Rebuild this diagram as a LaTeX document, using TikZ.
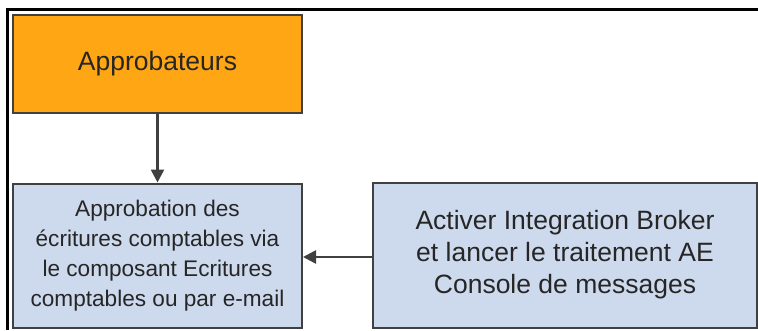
\documentclass[tikz,border=0pt]{standalone}
\usepackage{fontspec}
\setmainfont{Liberation Sans}
\usetikzlibrary{arrows.meta}
\definecolor{orangefill}{HTML}{FFA615}
\definecolor{bluefill}{HTML}{CDD9EC}
\definecolor{edgegray}{HTML}{404040}
\tikzset{
  boxstyle/.style={draw=edgegray, line width=2pt, inner sep=0pt, align=center,
    font=\fontsize{22.6}{30}\selectfont, text=black!85},
  bigtext/.style={font=\fontsize{26.5}{32}\selectfont},
  conn/.style={draw=edgegray, line width=2.5pt, -{Triangle[length=13pt,width=13pt]}}
}
\begin{document}
\begin{tikzpicture}[x=1pt,y=1pt]
\useasboundingbox (0,0) rectangle (758,330);
\fill[white] (0,0) rectangle (758,330);
\draw[black, line width=3pt] (7,0) -- (7,320) -- (758,320);
\node[boxstyle, bigtext, fill=orangefill, minimum width=289pt, minimum height=98pt] (appro) at (157.5,266) {Approbateurs};
\node[boxstyle, fill=bluefill, minimum width=289pt, minimum height=144pt] (ecr) at (157.5,74.5) {Approbation des\\écritures comptables via\\le composant Ecritures\\comptables ou par e-mail};
\node[boxstyle, bigtext, fill=bluefill, minimum width=384pt, minimum height=145pt] (ib) at (565,75) {Activer Integration Broker\\et lancer le traitement AE\\Console de messages};
\draw[conn] (appro.south) -- (ecr.north);
\draw[conn] (ib.west |- 0,73) -- (ecr.east |- 0,73);
\end{tikzpicture}
\end{document}
